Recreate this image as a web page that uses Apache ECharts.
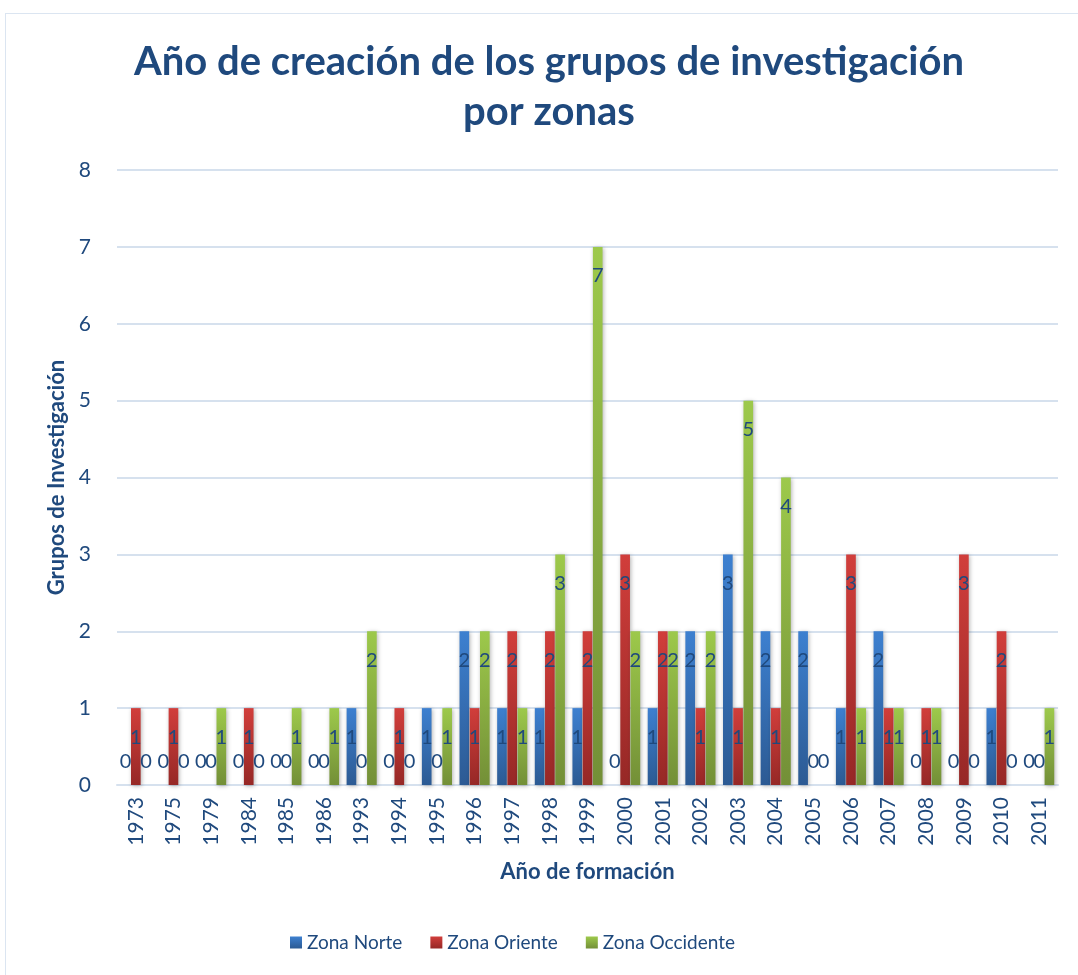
<!DOCTYPE html>
<html>
<head>
<meta charset="utf-8">
<script src="https://cdn.jsdelivr.net/npm/echarts@6/dist/echarts.min.js"></script>
<style>
  html, body { margin: 0; padding: 0; background: #fff; }
  #frame { position: absolute; left: 5px; top: 13px; width: 1090px; height: 980px; border: 1px solid #dbe5f1; box-sizing: border-box; }
  #chart { width: 1078px; height: 975px; }
</style>
</head>
<body>
<div id="frame"></div>
<div id="chart"></div>
<script>
const years = ["1973", "1975", "1979", "1984", "1985", "1986", "1993", "1994", "1995", "1996", "1997", "1998", "1999",
  "2000", "2001", "2002", "2003", "2004", "2005", "2006", "2007", "2008", "2009", "2010", "2011"];
const zonaNorte = [0, 0, 0, 0, 0, 0, 1, 0, 1, 2, 1, 1, 1, 0, 1, 2, 3, 2, 2, 1, 2, 0, 0, 1, 0];
const zonaOriente = [1, 1, 0, 1, 0, 0, 0, 1, 0, 1, 2, 2, 2, 3, 2, 1, 1, 1, 0, 3, 1, 1, 3, 2, 0];
const zonaOccidente = [0, 0, 1, 0, 1, 1, 2, 0, 1, 2, 1, 3, 7, 2, 2, 2, 5, 4, 0, 1, 1, 1, 0, 0, 1];
const yTicks = [0, 1, 2, 3, 4, 5, 6, 7, 8];

const textColor = "#1F497D";
const font = "Lato, 'Open Sans', sans-serif";

function gradient(top, bottom) {
  return new echarts.graphic.LinearGradient(0, 0, 0, 1, [
    { offset: 0, color: top },
    { offset: 1, color: bottom },
  ]);
}

// Excel puts the label near the top of the bar; zero bars get it a bit above the axis
function toItems(values) {
  return values.map((v) => ({
    value: v,
    label: v === 0
      ? { position: "top", distance: 13 }
      : { position: "insideTop", distance: 19 },
  }));
}

function makeSeries(name, values, top, bottom) {
  return {
    name,
    type: "bar",
    data: toItems(values),
    barGap: "6%",
    barCategoryGap: "20%",
    itemStyle: {
      color: gradient(top, bottom),
      shadowBlur: 4,
      shadowColor: "rgba(0,0,0,0.3)",
      shadowOffsetX: 1,
      shadowOffsetY: 1,
    },
    label: {
      show: true,
      color: textColor,
      fontSize: 20,
      fontFamily: font,
    },
  };
}

const chart = echarts.init(document.getElementById("chart"));
chart.setOption({
  animation: false,
  title: {
    text: "Año de creación de los grupos de investigación\npor zonas",
    left: 544,
    textAlign: "center",
    top: 32,
    textStyle: {
      color: textColor,
      fontSize: 40,
      fontWeight: "bold",
      fontFamily: font,
      lineHeight: 50,
    },
  },
  legend: {
    bottom: 18,
    left: 285,
    icon: "rect",
    itemWidth: 12,
    itemHeight: 12,
    itemGap: 28,
    textStyle: { color: textColor, fontSize: 19, fontFamily: font },
    data: ["Zona Norte", "Zona Oriente", "Zona Occidente"],
  },
  grid: { left: 117, right: 20, top: 170, bottom: 190 },
  xAxis: {
    type: "category",
    data: years,
    name: "Año de formación",
    nameLocation: "middle",
    nameGap: 76,
    nameTextStyle: { color: textColor, fontSize: 22, fontWeight: "bold", fontFamily: font },
    axisLine: { lineStyle: { color: "#d6e1ee", width: 2 } },
    axisTick: { show: false },
    axisLabel: { rotate: 90, color: textColor, fontSize: 21, fontFamily: font, margin: 12 },
  },
  yAxis: {
    type: "value",
    min: yTicks[0],
    max: yTicks[yTicks.length - 1],
    interval: 1,
    name: "Grupos de Investigación",
    nameLocation: "middle",
    nameGap: 48,
    nameTextStyle: { color: textColor, fontSize: 22, fontWeight: "bold", fontFamily: font },
    axisLine: { show: false },
    axisTick: { show: false },
    axisLabel: { color: textColor, fontSize: 21, fontFamily: font, margin: 26 },
    splitLine: { lineStyle: { color: "#d6e1ee", width: 2 } },
  },
  series: [
    makeSeries("Zona Norte", zonaNorte, "#3D80D0", "#2C5A93"),
    makeSeries("Zona Oriente", zonaOriente, "#D13E3B", "#962826"),
    makeSeries("Zona Occidente", zonaOccidente, "#9DC94B", "#738F37"),
  ],
});
window.addEventListener("resize", () => chart.resize());
</script>
</body>
</html>
